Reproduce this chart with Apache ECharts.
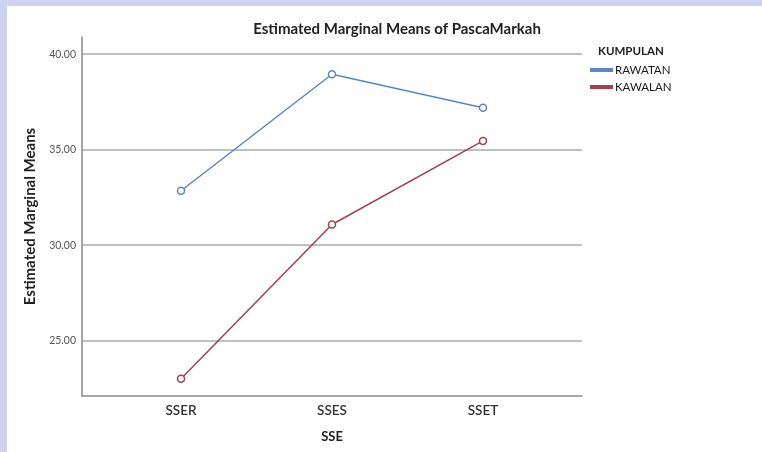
<!DOCTYPE html>
<html><head><meta charset="utf-8">
<script src="https://cdn.jsdelivr.net/npm/echarts@6/dist/echarts.min.js"></script>
<style>html,body{margin:0;padding:0;background:#fff}#c{width:762px;height:452px}</style>
</head><body><div id="c"></div>
<script>
const categories = ['SSER', 'SSES', 'SSET'];
const rawatan = [32.85, 38.95, 37.19];
const kawalan = [23.0, 31.08, 35.46];
const yTicks = [25, 30, 35, 40];
const seriesNames = ['RAWATAN', 'KAWALAN'];

const toPts = arr => arr.map((v, i) => [i, v]);
const font = 'Lato, "Open Sans", sans-serif';
const chart = echarts.init(document.getElementById('c'));
chart.setOption({
  backgroundColor: '#fff',
  animation: false,
  graphic: [
    {type: 'rect', shape: {x: 0, y: 0, width: 762, height: 6}, style: {fill: '#ccd2ef'}, z: -10},
    {type: 'rect', shape: {x: 0, y: 0, width: 7, height: 452}, style: {fill: '#ccd2ef'}, z: -10}
  ],
  title: [
    {text: 'Estimated Marginal Means of PascaMarkah', left: 392, top: 17, textAlign: 'center',
     textStyle: {fontFamily: font, fontSize: 15, fontWeight: 'bold', color: '#222'}},
    {text: 'KUMPULAN', left: 593, top: 40,
     textStyle: {fontFamily: font, fontSize: 11.5, fontWeight: 'bold', color: '#222'}}
  ],
  legend: {
    orient: 'vertical', left: 585, top: 59, itemWidth: 21, itemHeight: 2, itemGap: 5,
    icon: 'rect', data: seriesNames,
    textStyle: {fontFamily: font, fontSize: 11.5, color: '#1a1a1a', padding: [0, 0, 0, -2]}
  },
  grid: {left: 82, right: 180, top: 37, bottom: 56},
  xAxis: {
    type: 'value', min: -0.656, max: 2.656,
    name: 'SSE', nameLocation: 'middle', nameGap: 34,
    nameTextStyle: {fontFamily: font, fontSize: 13, fontWeight: 'bold', color: '#222'},
    axisLine: {show: true, onZero: false, lineStyle: {color: '#8a8a8a', width: 1.5}},
    axisTick: {show: false, customValues: [0, 1, 2]},
    splitLine: {show: false},
    axisLabel: {customValues: [0, 1, 2], formatter: v => categories[Math.round(v)], margin: 8,
      fontFamily: font, fontSize: 13.5, fontWeight: 600, color: '#333'}
  },
  yAxis: {
    type: 'value', min: 22.1, max: 40.9,
    name: 'Estimated Marginal Means', nameLocation: 'middle', nameGap: 44, nameRotate: 90,
    nameTextStyle: {fontFamily: font, fontSize: 15, fontWeight: 'bold', color: '#222'},
    axisLine: {show: true, onZero: false, lineStyle: {color: '#8a8a8a', width: 1.5}},
    axisTick: {show: false, customValues: yTicks},
    splitLine: {show: true, lineStyle: {color: '#c0c0c0', width: 2}},
    axisLabel: {customValues: yTicks, formatter: v => v.toFixed(2), margin: 6,
      fontFamily: font, fontSize: 10.5, color: '#555'}
  },
  series: [
    {name: seriesNames[0], type: 'line', data: toPts(rawatan), symbol: 'circle', symbolSize: 7,
     lineStyle: {color: '#5a86c8', width: 1.5}, itemStyle: {color: '#fff', borderColor: '#5a86c8', borderWidth: 1.5}, color: '#5a86c8'},
    {name: seriesNames[1], type: 'line', data: toPts(kawalan), symbol: 'circle', symbolSize: 7,
     lineStyle: {color: '#a3404e', width: 1.5}, itemStyle: {color: '#fff', borderColor: '#a3404e', borderWidth: 1.5}, color: '#a3404e'}
  ]
});
</script></body></html>
